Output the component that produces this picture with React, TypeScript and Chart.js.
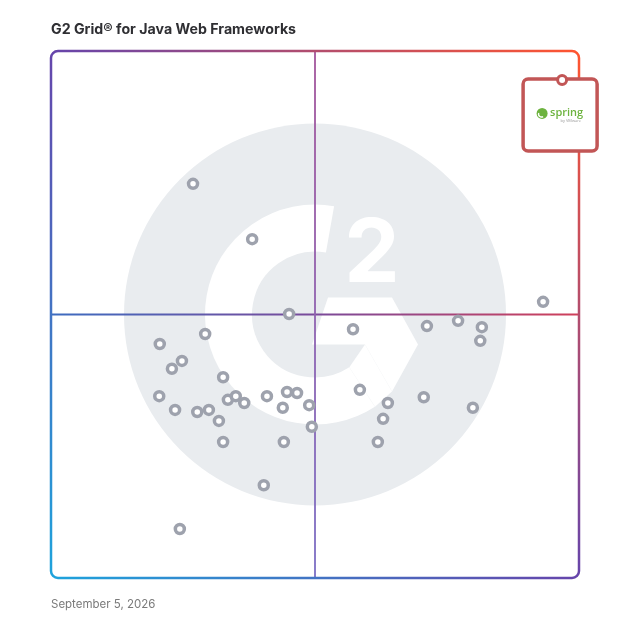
import React, { useEffect, useRef } from "react";
import { Chart, registerables } from "chart.js";

Chart.register(...registerables);

// G2 Grid data: x = satisfaction score, y = market presence score (0–100)
const satisfaction = [
  26.9, 38.1, 45.1, 93.2, 57.2, 71.2, 77.1, 81.6, 81.3, 29.2,
  20.6, 24.8, 22.9, 32.6, 20.5, 23.5, 27.7, 29.9, 31.8, 32.6,
  33.5, 35.0, 36.6, 40.9, 44.7, 46.6, 43.9, 48.9, 49.4, 44.1,
  58.5, 63.8, 62.9, 61.9, 70.6, 79.9, 40.3, 24.4,
];
const marketPresence = [
  74.8, 64.3, 50.1, 52.4, 47.2, 47.8, 48.8, 47.6, 45.0, 46.3,
  44.4, 41.2, 39.7, 38.1, 34.5, 31.9, 31.5, 31.9, 29.8, 25.8,
  33.8, 34.5, 33.2, 34.5, 35.3, 35.1, 32.3, 32.8, 28.7, 25.8,
  35.7, 33.2, 30.2, 25.8, 34.3, 32.3, 17.6, 9.3,
];
const leaderName = "spring";
const leaderSatisfaction = [96.8];
const leaderPresence = [94.5];
const titleText = "G2 Grid® for Java Web Frameworks";
const dateText = "September 5, 2026";

const deg = Math.PI / 180;

const backdropPlugin = {
  id: "g2backdrop",
  beforeDatasetsDraw(chart: any) {
    const { ctx, chartArea } = chart;
    const { left, right, top, bottom } = chartArea;
    const cx = (left + right) / 2;
    const cy = (top + bottom) / 2;
    const s = (right - left) / 528;
    const P = (dx: number, dy: number): [number, number] => [cx + dx * s, cy + dy * s];
    ctx.save();
    // watermark circle
    ctx.fillStyle = "#e9ecef";
    ctx.beginPath();
    ctx.arc(cx, cy, 191 * s, 0, Math.PI * 2);
    ctx.fill();
    // G ring
    ctx.strokeStyle = "#ffffff";
    ctx.lineWidth = 47 * s;
    ctx.lineCap = "butt";
    ctx.beginPath();
    ctx.arc(cx, cy, 86.5 * s, -80 * deg, 57 * deg, true);
    ctx.stroke();
    ctx.fillStyle = "#ffffff";
    const poly = (pts: [number, number][]) => {
      ctx.beginPath();
      pts.forEach((p, i) => {
        const [x, y] = P(p[0], p[1]);
        if (i === 0) ctx.moveTo(x, y);
        else ctx.lineTo(x, y);
      });
      ctx.closePath();
      ctx.fill();
    };
    poly([[13, -17], [77, -17], [103, 30], [77, 77], [50, 30], [-3, 30]]);
    poly([[34.3, 52.8], [60, 92.3], [77, 77], [50, 30]]);
    // the "2"
    ctx.font = `bold ${88 * s}px Inter, "DejaVu Sans", sans-serif`;
    ctx.textAlign = "center";
    ctx.textBaseline = "alphabetic";
    const [tx, ty] = P(57, -33);
    ctx.fillText("2", tx, ty);

    const xs = chart.scales.x;
    const ys = chart.scales.y;
    const mx = xs.getPixelForValue(50);
    const my = ys.getPixelForValue(50);
    // horizontal midline
    const hg = ctx.createLinearGradient(left, my, right, my);
    hg.addColorStop(0, "#3d6cc0");
    hg.addColorStop(0.5, "#7a4a9a");
    hg.addColorStop(1, "#d0405a");
    ctx.strokeStyle = hg;
    ctx.lineWidth = 1.8;
    ctx.beginPath();
    ctx.moveTo(left, my);
    ctx.lineTo(right, my);
    ctx.stroke();
    // vertical midline
    const vg = ctx.createLinearGradient(mx, top, mx, bottom);
    vg.addColorStop(0, "#a3559b");
    vg.addColorStop(1, "#7b6ec4");
    ctx.strokeStyle = vg;
    ctx.beginPath();
    ctx.moveTo(mx, top);
    ctx.lineTo(mx, bottom);
    ctx.stroke();
    // border
    const grad = ctx.createLinearGradient(left, bottom, right, top);
    grad.addColorStop(0, "#1ea3dc");
    grad.addColorStop(0.5, "#6645ab");
    grad.addColorStop(1, "#ff5530");
    ctx.strokeStyle = grad;
    ctx.lineWidth = 2.5;
    ctx.beginPath();
    ctx.roundRect(left, top, right - left, bottom - top, 7);
    ctx.stroke();

    // leader box
    const meta = chart.getDatasetMeta(1);
    const pt = meta.data[0];
    if (pt) {
      const px = pt.x;
      const py = pt.y;
      ctx.fillStyle = "#ffffff";
      ctx.strokeStyle = "#c25656";
      ctx.lineWidth = 3.5;
      ctx.beginPath();
      ctx.roundRect(px - 39, py - 1, 74, 72, 5);
      ctx.fill();
      ctx.stroke();
      // spring logo
      const lx = px - 20;
      const ly = py + 33.5;
      ctx.fillStyle = "#6db33f";
      ctx.beginPath();
      ctx.arc(lx, ly, 5.5, 0, Math.PI * 2);
      ctx.fill();
      ctx.strokeStyle = "#ffffff";
      ctx.lineWidth = 1.3;
      ctx.beginPath();
      ctx.arc(lx - 0.5, ly + 0.5, 3, 200 * deg, 60 * deg, true);
      ctx.stroke();
      ctx.fillStyle = "#6db33f";
      ctx.font = `600 11px "Open Sans", "DejaVu Sans", sans-serif`;
      ctx.textAlign = "left";
      ctx.textBaseline = "middle";
      ctx.fillText(leaderName, px - 12, py + 32.5);
      ctx.fillStyle = "#9a9a9a";
      ctx.font = `4px "Open Sans", sans-serif`;
      ctx.textAlign = "right";
      ctx.fillText("by VMware", px + 19, py + 41);
    }
    ctx.restore();
  },
};

export default function App() {
  const canvasRef = useRef<HTMLCanvasElement | null>(null);

  useEffect(() => {
    const canvas = canvasRef.current;
    if (!canvas) return;
    const chart = new Chart(canvas, {
      type: "scatter",
      data: {
        datasets: [
          {
            label: "Products",
            data: satisfaction.map((x, i) => ({ x, y: marketPresence[i] })),
            pointRadius: 4.5,
            pointBorderWidth: 3.5,
            pointBorderColor: "#9ea2ad",
            pointBackgroundColor: "#ffffff",
            pointHoverRadius: 4.5,
          },
          {
            label: leaderName,
            data: leaderSatisfaction.map((x, i) => ({ x, y: leaderPresence[i] })),
            pointRadius: 4.5,
            pointBorderWidth: 3,
            pointBorderColor: "#c25656",
            pointBackgroundColor: "#ffffff",
            clip: false as any,
          },
        ],
      },
      options: {
        animation: false,
        responsive: false,
        maintainAspectRatio: false,
        layout: { padding: { left: 51, top: 51, right: 49, bottom: 50 } },
        plugins: {
          legend: { display: false },
          tooltip: { enabled: false },
          title: { display: false },
        },
        scales: {
          x: { type: "linear", min: 0, max: 100, display: false },
          y: { type: "linear", min: 0, max: 100, display: false },
        },
      },
      plugins: [backdropPlugin],
    });
    return () => chart.destroy();
  }, []);

  return (
    <div style={{ position: "absolute", left: 0, top: 0, width: 628, height: 628, background: "#ffffff" }}>
      <div
        style={{
          position: "absolute",
          left: 51,
          top: 19,
          fontFamily: "Inter, 'DejaVu Sans', sans-serif",
          fontWeight: 700,
          fontSize: 14.2,
          lineHeight: "20px",
          color: "#2f2f33",
          whiteSpace: "nowrap",
        }}
      >
        {titleText}
      </div>
      <canvas ref={canvasRef} width={628} height={628} style={{ display: "block", width: 628, height: 628 }} />
      <div
        style={{
          position: "absolute",
          left: 51,
          top: 596,
          fontFamily: "Inter, 'DejaVu Sans', sans-serif",
          fontSize: 11.5,
          lineHeight: "16px",
          color: "#7a7a7a",
          whiteSpace: "nowrap",
        }}
      >
        {dateText}
      </div>
    </div>
  );
}
